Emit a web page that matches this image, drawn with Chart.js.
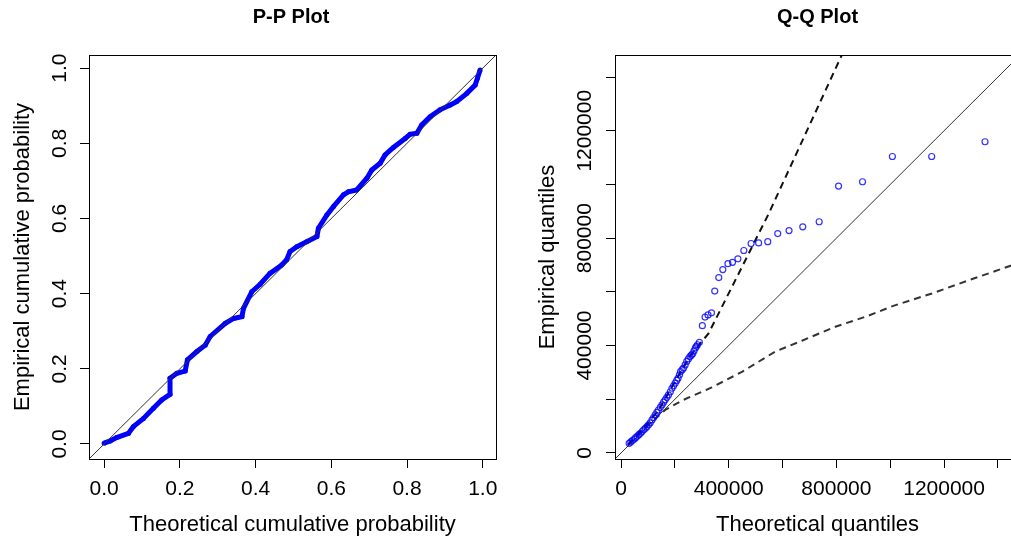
<!DOCTYPE html>
<html>
<head>
<meta charset="utf-8">
<title>P-P and Q-Q plots</title>
<script src="https://cdn.jsdelivr.net/npm/chart.js@4.4.0/dist/chart.umd.min.js"></script>
<style>
  html, body { margin: 0; padding: 0; background: #fff; overflow: hidden; width: 1011px; height: 539px; }
  .panel { position: absolute; top: 0; height: 539px; }
  #ppBox { left: 0; width: 582px; }
  #qqBox { left: 530px; width: 575px; }
</style>
</head>
<body>
<div class="panel" id="ppBox"><canvas id="ppChart" width="582" height="539"></canvas></div>
<div class="panel" id="qqBox"><canvas id="qqChart" width="575" height="539"></canvas></div>
<script>
/*---------------------------- data ------------------------------------*/

// P-P plot: theoretical vs empirical cumulative probability
var ppTheo = [0.000, 0.016, 0.033, 0.064, 0.077, 0.104, 0.130, 0.152, 0.174, 0.174,
  0.192, 0.214, 0.220, 0.245, 0.267, 0.280, 0.320, 0.342, 0.364, 0.368,
  0.390, 0.412, 0.438, 0.469, 0.482, 0.491, 0.509, 0.535, 0.562, 0.566,
  0.588, 0.606, 0.632, 0.645, 0.667, 0.694, 0.707, 0.729, 0.742, 0.764,
  0.795, 0.808, 0.826, 0.839, 0.861, 0.887, 0.914, 0.931, 0.958, 0.980,
  0.986, 0.993];
var ppEmp = [0.002, 0.008, 0.017, 0.028, 0.046, 0.068, 0.095, 0.117, 0.132, 0.175,
  0.188, 0.194, 0.224, 0.246, 0.263, 0.286, 0.321, 0.334, 0.339, 0.361,
  0.405, 0.425, 0.454, 0.476, 0.490, 0.512, 0.525, 0.538, 0.552, 0.574,
  0.609, 0.632, 0.663, 0.671, 0.676, 0.707, 0.729, 0.747, 0.769, 0.789,
  0.813, 0.824, 0.827, 0.849, 0.871, 0.889, 0.902, 0.911, 0.933, 0.955,
  0.973, 0.995];
var ppLimits = [-0.04, 1.035];
var ppTicks = [0, 0.2, 0.4, 0.6, 0.8, 1.0];

// Q-Q plot: theoretical vs empirical quantiles
var qqTheo = [30000, 36000, 42000, 48000, 54000, 60000, 66000, 72000, 78000, 84000,
  90000, 96000, 102000, 108000, 115000, 121000, 127000, 133000, 139000, 146000,
  152000, 158000, 164000, 170000, 176000, 183000, 189000, 195000, 201000, 207000,
  212000, 217000, 221000, 227000, 232000, 238000, 244000, 250000, 256000, 261000,
  266000, 271000, 276000, 280000, 284000, 291000, 302000, 312000, 323000, 336000,
  348000, 363000, 378000, 397000, 414000, 434000, 456000, 483000, 511000, 545000,
  582000, 624000, 675000, 736000, 808000, 897000, 1008000, 1154000, 1352000];
var qqEmp = [36000, 41000, 46000, 51000, 57000, 62000, 68000, 73000, 80000, 86000,
  92000, 98000, 105000, 112000, 123000, 132000, 142000, 151000, 160000, 170000,
  179000, 189000, 198000, 207000, 216000, 228000, 241000, 250000, 260000, 270000,
  279000, 291000, 303000, 310000, 316000, 328000, 341000, 350000, 359000, 364000,
  369000, 380000, 391000, 397000, 403000, 412000, 474000, 506000, 514000, 522000,
  603000, 653000, 683000, 705000, 710000, 723000, 754000, 780000, 782000, 787000,
  817000, 828000, 842000, 861000, 994000, 1010000, 1104000, 1104000, 1159000];

// confidence band (dashed)
var qqUpperTheo = [25000, 60000, 100000, 140000, 176000, 215000, 250000, 294000, 325000, 548000, 821000, 900000];
var qqUpperEmp = [30000, 68000, 112000, 160000, 223000, 290000, 352000, 408000, 445000, 890000, 1484000, 1656000];
var qqLowerTheo = [27000, 101000, 164000, 226000, 337000, 449000, 572000, 672000, 796000, 919000, 1006000, 1155000, 1291000, 1452000, 1540000];
var qqLowerEmp = [30000, 104000, 160000, 195000, 244000, 302000, 377000, 418000, 470000, 511000, 546000, 594000, 643000, 699000, 730000];
var qqLimits = [-22500, 1482000];
var qqTicks = [0, 200000, 400000, 600000, 800000, 1000000, 1200000, 1400000];

/*---------------------------- helpers ------------------------------------*/

var FONT = '"Liberation Sans", Arial, Helvetica, sans-serif';

Chart.defaults.animation = false;
Chart.defaults.plugins.legend.display = false;
Chart.defaults.plugins.tooltip.enabled = false;
Chart.defaults.color = '#000';
Chart.defaults.font.family = FONT;

function pairs(xs, ys) {
  return xs.map(function (x, i) { return { x: x, y: ys[i] }; });
}

// R style box around the plot region
var plotBox = {
  id: 'plotBox',
  afterDatasetsDraw: function (chart) {
    var a = chart.chartArea, ctx = chart.ctx;
    ctx.save();
    ctx.strokeStyle = '#000';
    ctx.lineWidth = 1;
    ctx.strokeRect(Math.round(a.left) + 0.5, Math.round(a.top) + 0.5,
      Math.round(a.right - a.left), Math.round(a.bottom - a.top));
    ctx.restore();
  }
};

function axis(opts) {
  return {
    type: 'linear',
    position: opts.position,
    min: opts.min,
    max: opts.max,
    afterFit: opts.fit,
    afterBuildTicks: function (s) {
      s.ticks = opts.ticks.map(function (v) { return { value: v }; });
    },
    border: { display: true, color: '#000', width: 1 },
    grid: { drawOnChartArea: false, drawTicks: true, tickLength: 9, tickColor: '#000', color: '#000' },
    ticks: {
      autoSkip: false,
      minRotation: opts.rot,
      maxRotation: opts.rot,
      crossAlign: 'center',
      padding: opts.pad,
      color: '#000',
      font: { size: 21, family: FONT },
      callback: opts.label
    },
    title: {
      display: true,
      text: opts.title,
      color: '#000',
      font: { size: 22, family: FONT },
      padding: opts.titlePad
    }
  };
}

// empty axis on the right so the chart area ends where R's box ends
function spacer(w) {
  return {
    position: 'right',
    display: true,
    afterFit: function (s) { s.width = w; },
    grid: { display: false, drawTicks: false },
    border: { display: false },
    ticks: { display: false }
  };
}

function mainTitle(text) {
  return {
    display: true,
    text: text,
    color: '#000',
    font: { size: 20, weight: 'bold', family: FONT },
    padding: { top: 5, bottom: 26 }
  };
}

/*----------------------------P-P Plot------------------------------------*/

new Chart(document.getElementById('ppChart'), {
  type: 'scatter',
  data: {
    datasets: [{
      data: pairs(ppLimits, ppLimits),
      showLine: true,
      borderColor: '#333',
      borderWidth: 1,
      pointRadius: 0
    }, {
      data: pairs(ppTheo, ppEmp),
      showLine: true,
      borderColor: '#0000ff',
      borderWidth: 5,
      pointRadius: 2.5,
      pointBorderWidth: 0,
      pointBackgroundColor: '#0000ff'
    }]
  },
  options: {
    responsive: false,
    layout: { padding: 0 },
    plugins: { title: mainTitle('P-P Plot') },
    scales: {
      x: axis({
        position: 'bottom', min: ppLimits[0], max: ppLimits[1], ticks: ppTicks, rot: 0, pad: 21,
        fit: function (s) { s.height = 80; },
        label: function (v) { return v.toFixed(1); },
        title: 'Theoretical cumulative probability', titlePad: { top: 0, bottom: 1 }
      }),
      y: axis({
        position: 'left', min: ppLimits[0], max: ppLimits[1], ticks: ppTicks, rot: 90, pad: 5,
        fit: function (s) { s.width = 89; },
        label: function (v) { return v.toFixed(1); },
        title: 'Empirical cumulative probability', titlePad: { top: 10, bottom: 0 }
      }),
      pad: spacer(86)
    }
  },
  plugins: [plotBox]
});

/*----------------------------Q-Q Plot------------------------------------*/

function qqLabel(v) {
  var r = Math.round(v);
  return r % 400000 === 0 ? String(r) : '';
}

new Chart(document.getElementById('qqChart'), {
  type: 'scatter',
  data: {
    datasets: [{
      data: pairs(qqTheo, qqEmp),
      pointRadius: 3,
      pointBorderWidth: 1.2,
      pointBorderColor: 'rgba(0,0,255,0.8)',
      pointBackgroundColor: 'rgba(0,0,0,0)'
    }, {
      data: pairs([qqLimits[0], 1700000], [qqLimits[0], 1700000]),
      showLine: true,
      borderColor: '#333',
      borderWidth: 1,
      pointRadius: 0
    }, {
      data: pairs(qqUpperTheo, qqUpperEmp),
      showLine: true,
      borderColor: '#111',
      borderWidth: 2,
      borderDash: [7, 5],
      pointRadius: 0
    }, {
      data: pairs(qqLowerTheo, qqLowerEmp),
      showLine: true,
      borderColor: '#333',
      borderWidth: 2,
      borderDash: [7, 5],
      pointRadius: 0
    }]
  },
  options: {
    responsive: false,
    layout: { padding: 0 },
    plugins: { title: mainTitle('Q-Q Plot') },
    scales: {
      x: axis({
        position: 'bottom', min: qqLimits[0], max: qqLimits[1], ticks: qqTicks, rot: 0, pad: 21,
        fit: function (s) { s.height = 80; },
        label: qqLabel,
        title: 'Theoretical quantiles', titlePad: { top: 0, bottom: 1 }
      }),
      y: axis({
        position: 'left', min: qqLimits[0], max: qqLimits[1], ticks: qqTicks, rot: 90, pad: -20,
        fit: function (s) { s.width = 85; },
        label: qqLabel,
        title: 'Empirical quantiles', titlePad: { top: 5, bottom: 0 }
      }),
      pad: spacer(85)
    }
  },
  plugins: [plotBox]
});
</script>
</body>
</html>
